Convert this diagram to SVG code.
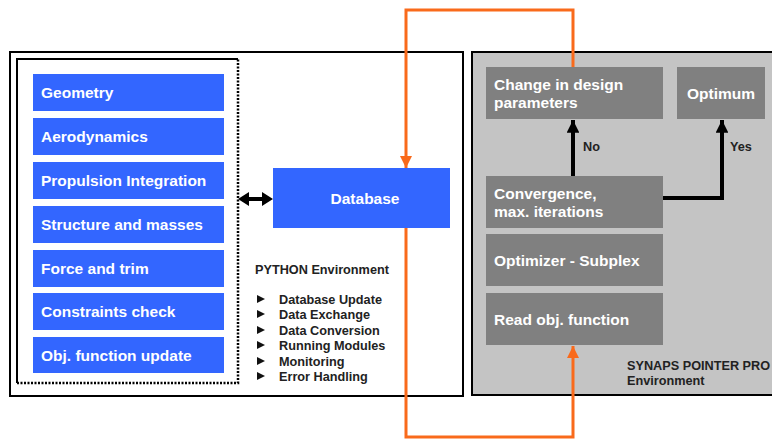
<svg xmlns="http://www.w3.org/2000/svg" width="772" height="439" viewBox="0 0 772 439">
<style>
.bt{font-family:"Liberation Sans",Arial,sans-serif;font-weight:bold;font-size:15.5px;fill:#fff;}
.blue{fill:#3366ff;}
.gray{fill:#808080;}
.lbl{font-family:"Liberation Sans",Arial,sans-serif;font-weight:bold;font-size:12.7px;fill:#222;}
.orange{fill:none;stroke:#f96a1b;stroke-width:3;}
.blk{fill:none;stroke:#000;stroke-width:4;}
</style>
<defs>
<marker id="oa" viewBox="0 0 10 10" refX="10" refY="5" markerWidth="4" markerHeight="4" orient="auto" markerUnits="strokeWidth"><path d="M0,0 L10,5 L0,10 z" fill="#f96a1b"/></marker>
<marker id="ka" viewBox="0 0 10 10" refX="10" refY="5" markerWidth="3.2" markerHeight="3.2" orient="auto" markerUnits="strokeWidth"><path d="M0,0 L10,5 L0,10 z" fill="#000"/></marker>
</defs>
<rect width="772" height="439" fill="#fff"/>
<g id="python-env">
<rect x="10" y="52" width="453" height="344" fill="#fff" stroke="#000" stroke-width="2"/>
<text class="lbl" x="255" y="274">PYTHON Environment</text>
<g class="lbl">
<path d="M257,295 L265,299 L257,303 z M257,310 L265,314 L257,318 z M257,326 L265,330 L257,334 z M257,341 L265,345 L257,349 z M257,357 L265,361 L257,365 z M257,372 L265,376 L257,380 z" fill="#111"/>
<text x="279" y="304">Database Update</text>
<text x="279" y="319">Data Exchange</text>
<text x="279" y="335">Data Conversion</text>
<text x="279" y="350">Running Modules</text>
<text x="279" y="366">Monitoring</text>
<text x="279" y="381">Error Handling</text>
</g>
</g>
<g id="modules">
<path d="M238,59 L17,59 L17,383" fill="none" stroke="#000" stroke-width="2"/>
<path d="M17,383 L238,383 L238,59" fill="none" stroke="#000" stroke-width="2.5" stroke-dasharray="2,1.5"/>
</g>
<g id="geometry"><rect class="blue" x="33" y="74" width="191" height="37"/><text class="bt" x="41" y="98">Geometry</text></g>
<g id="aerodynamics"><rect class="blue" x="33" y="118" width="191" height="37"/><text class="bt" x="41" y="142">Aerodynamics</text></g>
<g id="propulsion"><rect class="blue" x="33" y="162" width="191" height="37"/><text class="bt" x="41" y="186">Propulsion Integration</text></g>
<g id="structure"><rect class="blue" x="33" y="206" width="191" height="37"/><text class="bt" x="41" y="230">Structure and masses</text></g>
<g id="force"><rect class="blue" x="33" y="250" width="191" height="37"/><text class="bt" x="41" y="274">Force and trim</text></g>
<g id="constraints"><rect class="blue" x="33" y="293" width="191" height="37"/><text class="bt" x="41" y="317">Constraints check</text></g>
<g id="objfun"><rect class="blue" x="33" y="337" width="191" height="36"/><text class="bt" x="41" y="361">Obj. function update</text></g>
<g id="database"><rect class="blue" x="273" y="168" width="177" height="60"/><text class="bt" x="365" y="204" text-anchor="middle">Database</text></g>
<g id="synaps-env">
<rect x="472" y="52" width="310" height="343" fill="#c4c4c4" stroke="#000" stroke-width="2"/>
<text class="lbl" x="627" y="370">SYNAPS POINTER PRO</text>
<text class="lbl" x="627" y="385">Environment</text>
</g>
<g id="change"><rect class="gray" x="486" y="67" width="177" height="52"/><text class="bt" x="494" y="90">Change in design</text><text class="bt" x="494" y="108">parameters</text></g>
<g id="optimum"><rect class="gray" x="677" y="67" width="88" height="52"/><text class="bt" x="721" y="99" text-anchor="middle">Optimum</text></g>
<g id="convergence"><rect class="gray" x="486" y="176" width="177" height="52"/><text class="bt" x="494" y="199">Convergence,</text><text class="bt" x="494" y="217">max. iterations</text></g>
<g id="optimizer"><rect class="gray" x="486" y="234" width="177" height="52"/><text class="bt" x="494" y="266">Optimizer - Subplex</text></g>
<g id="readobj"><rect class="gray" x="486" y="293" width="177" height="52"/><text class="bt" x="494" y="325">Read obj. function</text></g>
<g id="connectors">
<path class="blk" d="M573,176 L573,120" marker-end="url(#ka)"/>
<path class="blk" d="M663,198 L722,198 L722,120" marker-end="url(#ka)"/>
<text class="lbl" x="583" y="151" fill="#000">No</text>
<text class="lbl" x="730" y="151" fill="#000">Yes</text>
<path d="M246,199 L264,199" fill="none" stroke="#000" stroke-width="4"/>
<path d="M238,199 L249,192 L249,206 z M273,199 L262,192 L262,206 z" fill="#000"/>
<path class="orange" d="M573,67 L573,10 L406,10 L406,168" marker-end="url(#oa)"/>
<path class="orange" d="M406,228 L406,437 L573,437 L573,346" marker-end="url(#oa)"/>
</g>
</svg>
